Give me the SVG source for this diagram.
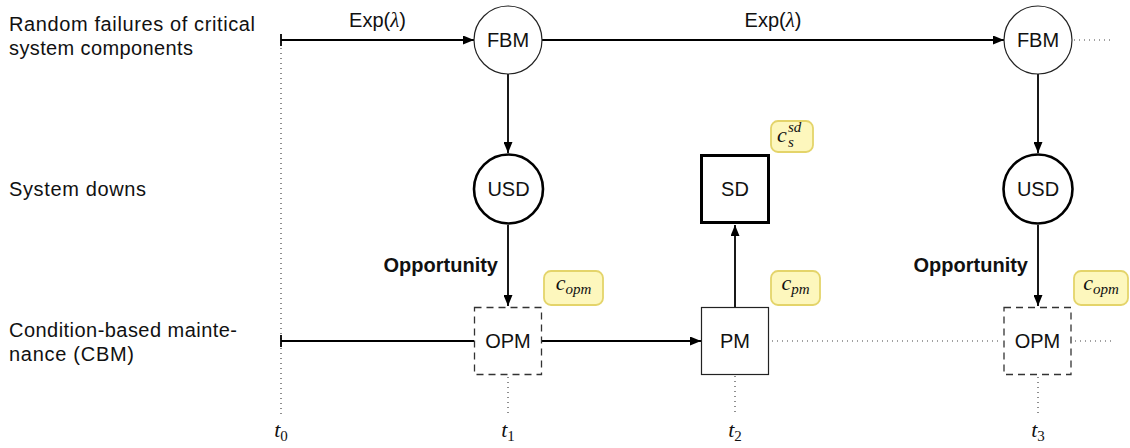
<svg xmlns="http://www.w3.org/2000/svg" width="1130" height="448" viewBox="0 0 1130 448">
<style>
.lab{font-family:"Liberation Sans",Arial,sans-serif;font-size:20px;fill:#111}
.nt{font-family:"Liberation Sans",Arial,sans-serif;font-size:20px;fill:#111;text-anchor:middle}
.bold{font-family:"Liberation Sans",Arial,sans-serif;font-size:20px;font-weight:bold;fill:#111;text-anchor:end}
.math{font-family:"Liberation Serif","Times New Roman",serif;font-style:italic;font-size:22px;fill:#111}
.sub{font-size:15px}
.up{font-style:normal}
.edge{stroke:#000;stroke-width:1.8;fill:none}
.dot{stroke:#444;stroke-width:1.2;stroke-dasharray:1 4;fill:none}
.thin{fill:#fff;stroke:#222;stroke-width:1.2}
.thick{fill:#fff;stroke:#000;stroke-width:3}
.dash{fill:#fff;stroke:#333;stroke-width:1.3;stroke-dasharray:7 5}
.cost{fill:#fdf7bd;stroke:#e4d46a;stroke-width:1.8}
</style>
<defs>
<marker id="arr" markerUnits="userSpaceOnUse" markerWidth="11" markerHeight="9" refX="11" refY="4.5" orient="auto">
<path d="M0,0 L11,4.5 L0,9 z" fill="#000"/>
</marker>
</defs>

<g id="row-labels">
<text class="lab" x="9" y="31" textLength="246" lengthAdjust="spacing">Random failures of critical</text>
<text class="lab" x="9" y="55" textLength="184" lengthAdjust="spacing">system components</text>
<text class="lab" x="9" y="196" textLength="137" lengthAdjust="spacing">System downs</text>
<text class="lab" x="9" y="337" textLength="228" lengthAdjust="spacing">Condition-based mainte-</text>
<text class="lab" x="9" y="361" textLength="125" lengthAdjust="spacing">nance (CBM)</text>
</g>

<g id="timeline-guides">
<line class="dot" x1="281" y1="48" x2="281" y2="416"/>
<line class="dot" x1="508" y1="377" x2="508" y2="416"/>
<line class="dot" x1="735" y1="376" x2="735" y2="414"/>
<line class="dot" x1="1038" y1="377" x2="1038" y2="416"/>
<line class="dot" x1="1074" y1="40" x2="1114" y2="40"/>
<line class="dot" x1="772" y1="341" x2="1002" y2="341"/>
<line class="dot" x1="1075" y1="341" x2="1114" y2="341"/>
</g>

<g id="connectors">
<line class="edge" x1="281" y1="34" x2="281" y2="46"/>
<line class="edge" x1="281" y1="40" x2="474" y2="40" marker-end="url(#arr)"/>
<line class="edge" x1="542" y1="40" x2="1004" y2="40" marker-end="url(#arr)"/>
<line class="edge" x1="508" y1="74" x2="508" y2="153" marker-end="url(#arr)"/>
<line class="edge" x1="1038" y1="74" x2="1038" y2="153" marker-end="url(#arr)"/>
<line class="edge" x1="508" y1="225" x2="508" y2="306" marker-end="url(#arr)"/>
<line class="edge" x1="1038" y1="225" x2="1038" y2="306" marker-end="url(#arr)"/>
<line class="edge" x1="281" y1="335" x2="281" y2="347"/>
<line class="edge" x1="281" y1="341" x2="474" y2="341"/>
<line class="edge" x1="542" y1="341" x2="701" y2="341" marker-end="url(#arr)"/>
<line class="edge" x1="735" y1="307" x2="735" y2="225" marker-end="url(#arr)"/>
<text class="lab" x="377.5" y="27" text-anchor="middle">Exp(<tspan class="math" style="font-size:21px">λ</tspan>)</text>
<text class="lab" x="773" y="27" text-anchor="middle">Exp(<tspan class="math" style="font-size:21px">λ</tspan>)</text>
<text class="bold" x="498" y="272">Opportunity</text>
<text class="bold" x="1028" y="272">Opportunity</text>
</g>

<g id="FBM1">
<circle class="thin" cx="508" cy="40" r="34"/>
<text class="nt" x="508" y="47">FBM</text>
</g>
<g id="FBM2">
<circle class="thin" cx="1038" cy="40" r="34"/>
<text class="nt" x="1038" y="47">FBM</text>
</g>
<g id="USD1">
<circle class="thick" cx="508.5" cy="189" r="34.5" style="stroke-width:2.6"/>
<text class="nt" x="508.5" y="196">USD</text>
</g>
<g id="USD2">
<circle class="thick" cx="1038" cy="189" r="34.5" style="stroke-width:2.6"/>
<text class="nt" x="1038" y="196">USD</text>
</g>
<g id="SD">
<rect class="thick" x="701.5" y="155.5" width="67" height="67"/>
<text class="nt" x="735" y="196">SD</text>
</g>
<g id="OPM1">
<rect class="dash" x="474.5" y="307.5" width="67" height="67"/>
<text class="nt" x="508" y="348">OPM</text>
</g>
<g id="PM">
<rect class="thin" x="701.5" y="307.5" width="67" height="67"/>
<text class="nt" x="735" y="348">PM</text>
</g>
<g id="OPM2">
<rect class="dash" x="1004" y="307.5" width="67" height="67"/>
<text class="nt" x="1037.5" y="348">OPM</text>
</g>

<g id="cost-opm1">
<rect class="cost" x="544" y="271" width="59" height="34" rx="7"/>
<text class="math" x="573.5" y="290" text-anchor="middle">c<tspan class="sub" dy="4">opm</tspan></text>
</g>
<g id="cost-pm">
<rect class="cost" x="771" y="271" width="49" height="34" rx="7"/>
<text class="math" x="795.5" y="290" text-anchor="middle">c<tspan class="sub" dy="4">pm</tspan></text>
</g>
<g id="cost-opm2">
<rect class="cost" x="1074" y="271" width="54" height="34" rx="7"/>
<text class="math" x="1101" y="290" text-anchor="middle">c<tspan class="sub" dy="4">opm</tspan></text>
</g>
<g id="cost-sd">
<rect class="cost" x="771" y="121" width="42" height="31" rx="7"/>
<text class="math" x="777" y="142">c</text>
<text class="math sub" x="788" y="132">sd</text>
<text class="math sub" x="788" y="147">s</text>
</g>

<g id="time-labels">
<text class="math" x="281" y="437" text-anchor="middle">t<tspan class="sub up" dy="4">0</tspan></text>
<text class="math" x="508" y="437" text-anchor="middle">t<tspan class="sub up" dy="4">1</tspan></text>
<text class="math" x="735" y="437" text-anchor="middle">t<tspan class="sub up" dy="4">2</tspan></text>
<text class="math" x="1038" y="437" text-anchor="middle">t<tspan class="sub up" dy="4">3</tspan></text>
</g>
</svg>
